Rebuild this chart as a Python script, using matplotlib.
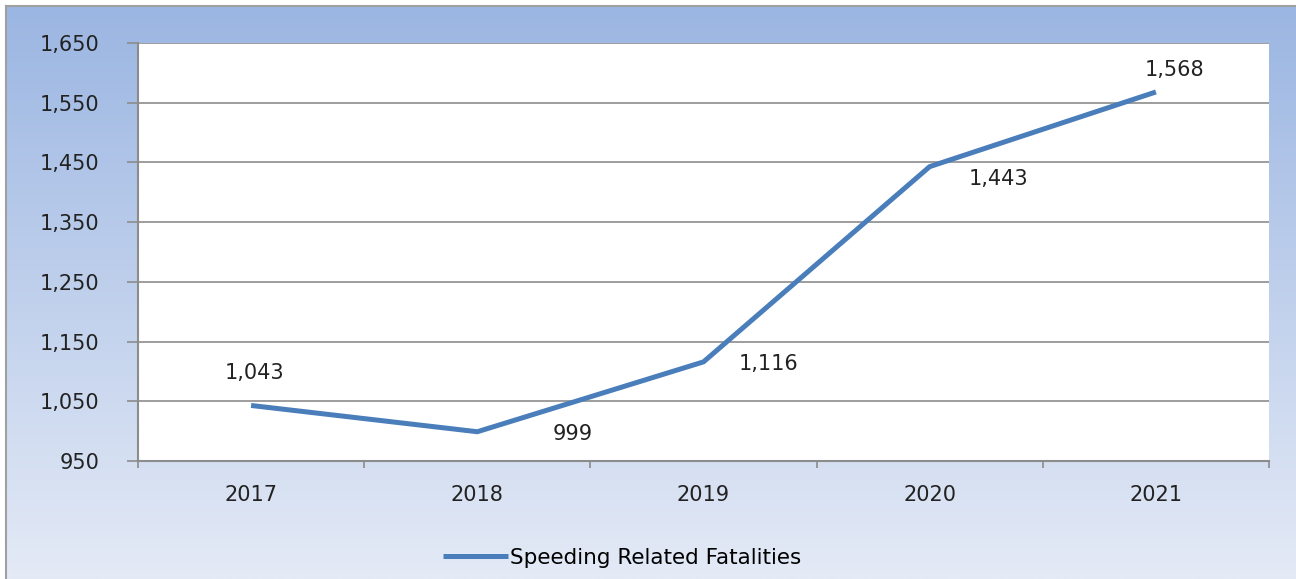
import matplotlib.pyplot as plt
import numpy as np

years = ["2017", "2018", "2019", "2020", "2021"]
fatalities = [1043, 999, 1116, 1443, 1568]
series_name = "Speeding Related Fatalities"
y_ticks = [950, 1050, 1150, 1250, 1350, 1450, 1550, 1650]

# label offsets in pixels (dx, dy)
offsets = [(3, 32), (95, -2), (65, -2), (69, -12), (19, 22)]

W, H = 1296, 579
fig = plt.figure(figsize=(W / 100, H / 100), dpi=100)

# gradient background with a thin border at top/left
bg = fig.add_axes([6 / W, 0, 1 - 6 / W, 1 - 6 / H])
top = np.array([155, 182, 226]) / 255
bottom = np.array([228, 234, 246]) / 255
t = np.linspace(0, 1, 256)[:, None]
grad = top * (1 - t) + bottom * t
bg.imshow(grad[:, None, :], aspect="auto", extent=[0, 1, 0, 1])
bg.set_xticks([])
bg.set_yticks([])
for s in ["right", "bottom"]:
    bg.spines[s].set_visible(False)
for s in ["left", "top"]:
    bg.spines[s].set_color("#a0a0a0")
    bg.spines[s].set_linewidth(1.5)

ax = fig.add_axes([138 / W, 1 - 461 / H, (1269 - 138) / W, (461 - 43) / H])
ax.set_facecolor("white")
x = np.arange(len(years))
line, = ax.plot(x, fatalities, color="#4a7ebb", linewidth=3.6, solid_capstyle="butt",
                label=series_name)

ax.set_xlim(-0.5, len(years) - 0.5)
ax.set_ylim(y_ticks[0], y_ticks[-1])
ax.set_yticks(y_ticks)
ax.set_yticklabels([f"{v:,}" for v in y_ticks])
ax.set_xticks(x)
ax.set_xticklabels(years)
ax.set_xticks(np.arange(len(years) + 1) - 0.5, minor=True)
ax.tick_params(axis="x", which="major", length=0, pad=17, labelsize=15, colors="#222222")
ax.tick_params(axis="x", which="minor", length=5, width=1.2, color="#8c8c8c")
ax.tick_params(axis="y", length=8, width=1.2, color="#8c8c8c", pad=20, labelsize=15,
               labelcolor="#222222")
ax.grid(axis="y", color="#8c8c8c", linewidth=1.2)
ax.set_axisbelow(True)
for s in ["top", "right"]:
    ax.spines[s].set_visible(False)
for s in ["left", "bottom"]:
    ax.spines[s].set_color("#8c8c8c")
    ax.spines[s].set_linewidth(1.5)

for xi, v, (dx, dy) in zip(x, fatalities, offsets):
    ax.annotate(f"{v:,}", (xi, v), xytext=(dx, dy), textcoords="offset pixels",
                ha="center", va="center", fontsize=15, color="#222222")

fig.legend(handles=[line], loc="center", bbox_to_anchor=(622 / W, 1 - 558 / H),
           frameon=False, fontsize=15.5, handlelength=3.0, handletextpad=0.1)

fig.savefig("out.png", dpi=100)
